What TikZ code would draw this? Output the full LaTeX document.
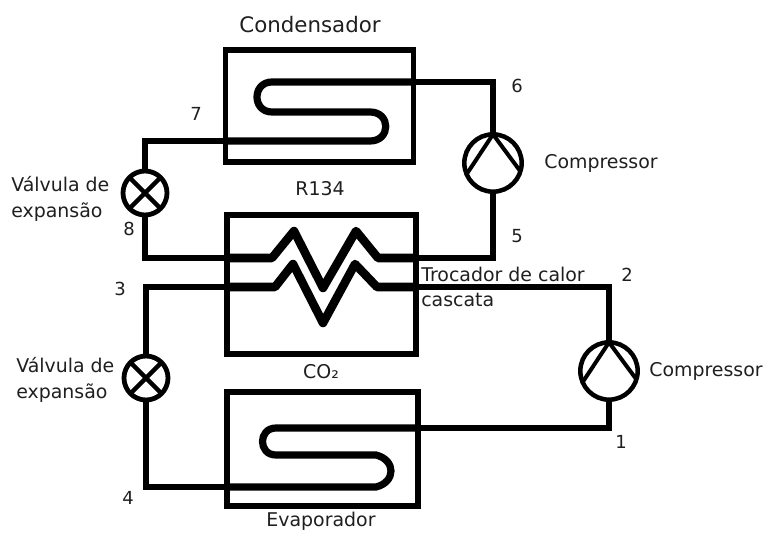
\documentclass[tikz,border=0pt]{standalone}
\usepackage{fontspec}
\setmainfont{DejaVu Sans}
\tikzset{
  box/.style={draw,line width=3.9pt,inner sep=0pt,outer sep=0pt},
  pipe/.style={line width=3.9pt},
  coil/.style={line width=5.4pt},
  zigzag/.style={line width=6.4pt,line join=round},
  valve/.style={draw,circle,line width=3.6pt,minimum size=33pt,inner sep=0pt,outer sep=0pt,fill=white},
  compressor/.style={draw,circle,line width=3.4pt,minimum size=43pt,inner sep=0pt,outer sep=0pt,fill=white},
  txt/.style={font=\fontsize{14.2pt}{19.5pt}\selectfont,text=black!88,inner sep=0pt,align=left},
  num/.style={txt,font=\fontsize{13.5pt}{16pt}\selectfont}
}
\begin{document}
\begin{tikzpicture}[x=0.75pt,y=-0.75pt]
\useasboundingbox (0,0) rectangle (767,532);

\node[box,minimum width=141pt,minimum height=84pt] (cond) at (319.5,106){};
\node[box,minimum width=141.75pt,minimum height=104.25pt] (trocador) at (321.5,284.5){};
\node[box,minimum width=143.25pt,minimum height=85.5pt] (evap) at (322.5,449){};

\node[valve] (v1) at (145,193){};
\node[valve] (v2) at (146,378){};
\node[compressor] (c1) at (493,163){};
\node[compressor] (c2) at (609,371){};

% pontos dos tubos
\coordinate (p6) at (c1.north |- 0,82);
\coordinate (p7) at (v1.north |- 0,141);
\coordinate (p8) at (v1.south |- 0,258);
\coordinate (p5) at (c1.south |- 0,258);
\coordinate (p3) at (v2.north |- 0,287);
\coordinate (p2) at (c2.north |- 0,287);
\coordinate (p4) at (v2.south |- 0,487);
\coordinate (p1) at (c2.south |- 0,428);
\coordinate (c6) at (cond.east |- p6);
\coordinate (c7) at (cond.west |- p7);
\coordinate (e1) at (evap.east |- p1);
\coordinate (e4) at (evap.west |- p4);
\coordinate (t8) at (trocador.west |- p8);
\coordinate (t5) at (trocador.east |- p5);
\coordinate (t3) at (trocador.west |- p3);
\coordinate (t2) at (trocador.east |- p2);

% tubos
\draw[pipe] (c1.north) -- (p6) -- (c6);
\draw[pipe] (v1.north) -- (p7) -- (c7);
\draw[pipe] (v1.south) -- (p8) -- (t8);
\draw[pipe] (c1.south) -- (p5) -- (t5);
\draw[pipe] (v2.north) -- (p3) -- (t3);
\draw[pipe] (c2.north) -- (p2) -- (t2);
\draw[pipe] (v2.south) -- (p4) -- (e4);
\draw[pipe] (c2.south) -- (p1) -- (e1);

% serpentinas
\draw[coil] (c6) -- (272,82) .. controls (252,82) and (252,112) .. (272,112) -- (370,112) .. controls (391,112) and (391,141) .. (370,141) -- (c7);
\draw[coil] (e1) -- (276,428) .. controls (258,428) and (258,455) .. (276,455) -- (376,455) .. controls (396,460) and (396,482) .. (376,487) -- (e4);
\draw[zigzag] (t8) -- (272,258) -- (294,231) -- (323,288) -- (356,231) -- (378,258) -- (t5);
\draw[zigzag] (t3) -- (275,287) -- (293,264) -- (323,323) -- (355,264) -- (377,287) -- (t2);

% valvulas e compressores
\foreach \v in {v1,v2}{
  \draw[line width=3.4pt] (\v.45) -- (\v.225);
  \draw[line width=3.4pt] (\v.135) -- (\v.315);
}
\foreach \c in {c1,c2}{
  \draw[line width=3pt] (\c.-157) -- (\c.north) -- (\c.-17);
}

% textos
\node[txt,font=\fontsize{16pt}{19pt}\selectfont] (lcond) at (310,25){Condensador};
\node[num] (l6) at (517,86){6};
\node[num] (l7) at (196,114){7};
\node[txt] (lc1) at (601,163){Compressor};
\node[txt] (lr) at (320,189){R134};
\node[txt,anchor=west] (lv1) at (11,199){Válvula de\\expansão};
\node[num] (l8) at (129,229){8};
\node[num] (l5) at (517,236){5};
\node[txt,anchor=west] (ltr1) at (421,274){Trocador de calor};
\node[txt,anchor=west] (ltr2) at (421,300){cascata};
\node[num] (l2) at (627,275){2};
\node[num] (l3) at (120,289){3};
\node[txt,anchor=west] (lv2) at (16,380){Válvula de\\expansão};
\node[txt] (lco) at (321,372){CO₂};
\node[txt] (lc2) at (706,371){Compressor};
\node[num] (l1) at (621,442){1};
\node[num] (l4) at (128,498){4};
\node[txt] (lev) at (321,521){Evaporador};
\end{tikzpicture}
\end{document}
